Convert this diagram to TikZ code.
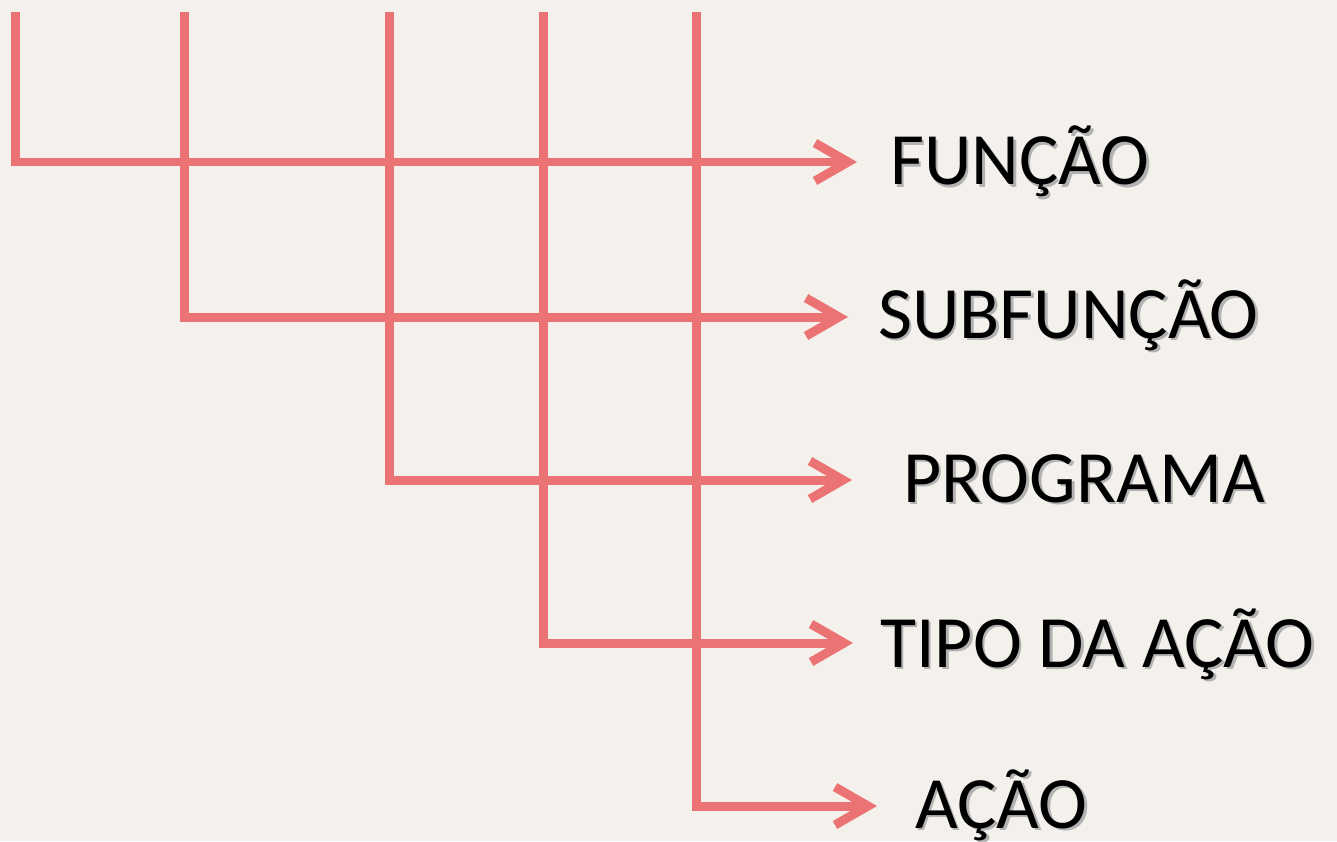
\documentclass[tikz,border=0pt]{standalone}
\usepackage{fontspec}
\setmainfont{Carlito}
\usepackage{xcolor}
\definecolor{Paper}{HTML}{F4F1EC}
\definecolor{Rule}{HTML}{EC7373}
\usetikzlibrary{arrows.meta, positioning}

\begin{document}
\begin{tikzpicture}[x=0.02cm, y=-0.02cm,
  link/.style={draw=Rule, line width=0.18cm, line join=miter},
  arr/.style={link, -{Straight Barb[length=0.66cm, width=0.76cm]}},
  lbl/.style={anchor=base west, inner sep=0pt, font=\fontsize{42}{50}\selectfont},
  shade/.style={lbl, text=black!30}
]
\fill[Paper] (0,0) rectangle (1337,841);
\useasboundingbox (0,0) rectangle (1337,841);

%% ---- tops of the five verticals ----
\coordinate (tfun)  at (15.5,12);
\coordinate (tsub)  at (184.5,12);
\coordinate (tprog) at (389.5,12);
\coordinate (ttipo) at (543,12);
\coordinate (tacao) at (696.5,12);

%% ---- arrow tips ----
\coordinate (hfun)  at (857,162);
\coordinate (hsub)  at (848,317);
\coordinate (hprog) at (852,480);
\coordinate (htipo) at (853,643);
\coordinate (hacao) at (877,806);

%% ---- labels (grey copy underneath as a drop shadow) ----
\node[shade] (funS)  at (892.5,187.5) {FUNÇÃO};
\node[lbl]   (fun)   at (890,185) {FUNÇÃO};
\node[shade] (subS)  at (880.5,340.5) {SUBFUNÇÃO};
\node[lbl]   (sub)   at (878,338) {SUBFUNÇÃO};
\node[shade] (progS) at (905.5,504.5) {PROGRAMA};
\node[lbl]   (prog)  at (903,502) {PROGRAMA};
\node[shade] (tipoS) at (882.5,669.5) {TIPO DA AÇÃO};
\node[lbl]   (tipo)  at (880,667) {TIPO DA AÇÃO};
\node[shade] (acaoS) at (917.5,830.5) {AÇÃO};
\node[lbl]   (acao)  at (915,828) {AÇÃO};

%% ---- connectors ----
\draw[arr] (tfun)  |- (hfun);
\draw[arr] (tsub)  |- (hsub);
\draw[arr] (tprog) |- (hprog);
\draw[arr] (ttipo) |- (htipo);
\draw[arr] (tacao) |- (hacao);

\end{tikzpicture}
\end{document}
